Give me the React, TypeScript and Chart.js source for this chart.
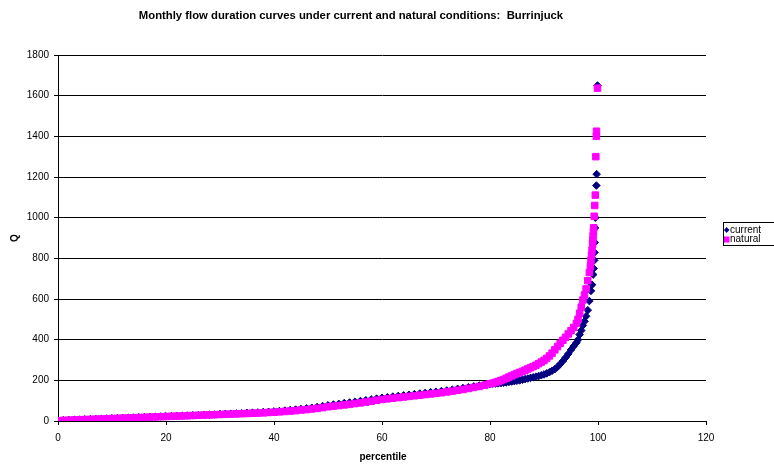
import { useEffect, useRef } from "react";
import { Chart, registerables } from "chart.js";

Chart.register(...registerables);

const TITLE = "Monthly flow duration curves under current and natural conditions:  Burrinjuck";
const X_TITLE = "percentile";
const Y_TITLE = "Q";
const SERIES_NAMES = ["current", "natural"];
const xTickValues = [0, 20, 40, 60, 80, 100, 120];
const yTickValues = [0, 200, 400, 600, 800, 1000, 1200, 1400, 1600, 1800];

// percentiles 0..80 (shared by both series)
const pctLow = [
  0, 1, 2, 3, 4, 5, 6, 7, 8, 9, 10, 11, 12, 13, 14, 15, 16, 17, 18, 19, 20,
  21, 22, 23, 24, 25, 26, 27, 28, 29, 30, 31, 32, 33, 34, 35, 36, 37, 38, 39, 40,
  41, 42, 43, 44, 45, 46, 47, 48, 49, 50, 51, 52, 53, 54, 55, 56, 57, 58, 59, 60,
  61, 62, 63, 64, 65, 66, 67, 68, 69, 70, 71, 72, 73, 74, 75, 76, 77, 78, 79, 80,
];
const qCurrentLow = [
  3, 4, 5, 6, 7, 8, 9, 10, 11, 12, 13, 14, 15, 16, 17, 18, 19, 20, 21, 22, 23,
  24, 25, 26, 27, 28, 29, 30, 31, 32, 34, 35, 36, 37, 38, 40, 41, 42, 44, 45, 47,
  49, 51, 54, 56, 59, 62, 65, 69, 73, 77, 81, 84, 88, 91, 95, 98, 102, 106, 110, 114,
  117, 120, 123, 126, 129, 132, 135, 138, 141, 144, 147, 150, 154, 158, 162, 166, 170, 174, 178, 182,
];
const qNaturalLow = [
  1, 3, 4, 5, 6, 7, 8, 9, 10, 11, 12, 13, 14, 15, 16, 17, 18, 19, 20, 21, 22,
  23, 24, 25, 26, 27, 28, 29, 30, 31, 32, 33, 34, 35, 36, 37, 38, 39, 40, 42, 43,
  45, 47, 49, 51, 54, 56, 59, 62, 66, 70, 73, 76, 79, 82, 86, 89, 93, 97, 102, 106,
  109, 112, 115, 118, 121, 124, 127, 130, 133, 136, 139, 143, 147, 151, 155, 160, 165, 170, 176, 183,
];

const pctCurrentHigh = [
  80.5, 81, 81.5, 82, 82.5, 83, 83.5, 84, 84.5, 85, 85.5, 86, 86.5, 87, 87.5, 88,
  88.5, 89, 89.5, 90, 90.5, 91, 91.5, 92, 92.5, 93, 93.5, 94, 94.5, 95, 95.5, 96,
  96.3, 96.6, 96.9, 97.2, 97.5, 97.8, 98.1, 98.4, 98.7, 98.9, 99.1, 99.2, 99.3,
  99.35, 99.4, 99.45, 99.5, 99.7, 99.75, 99.9,
];
const qCurrentHigh = [
  183, 184, 185, 186, 188, 190, 192, 194, 196, 198, 200, 203, 206, 209, 212, 215,
  218, 221, 225, 229, 234, 240, 247, 255, 266, 280, 295, 312, 330, 350, 368, 385,
  400, 425, 445, 470, 490, 515, 545, 590, 640, 670, 720, 750, 790,
  829, 878, 950, 1000, 1158, 1214, 1650,
];

const pctNaturalHigh = [
  80.5, 81, 81.5, 82, 82.5, 83, 83.5, 84, 84.5, 85, 85.5, 86, 86.5, 87, 87.5, 88,
  88.5, 89, 89.5, 90, 90.5, 91, 91.5, 92, 92.5, 93, 93.5, 94, 94.5, 95, 95.5, 96,
  96.3, 96.6, 96.9, 97.2, 97.5, 97.8, 98.1, 98.4, 98.6, 98.7, 98.8, 98.9, 99.0,
  99.05, 99.1, 99.15, 99.2, 99.3, 99.4, 99.5, 99.6, 99.7, 99.72, 99.9,
];
const qNaturalHigh = [
  186, 190, 194, 199, 204, 210, 216, 222, 228, 234, 239, 244, 250, 256, 262, 268,
  274, 282, 290, 298, 308, 320, 334, 350, 366, 382, 397, 412, 428, 444, 460, 480,
  500, 530, 560, 595, 620, 650, 690, 730, 760, 790, 815, 840, 870,
  890, 910, 930, 950, 1007, 1060, 1111, 1300, 1400, 1425, 1637,
];

const NAVY = "#000080";
const MAGENTA = "#FF00FF";
const FONT = '"Liberation Sans", Arial, sans-serif';

const toPoints = (xs: number[], ys: number[]) => xs.map((x, i) => ({ x, y: ys[i] }));

const decor = {
  id: "decor",
  afterDraw(chart: any) {
    const ctx = chart.ctx as CanvasRenderingContext2D;
    ctx.save();
    ctx.fillStyle = "#000";
    ctx.textBaseline = "middle";
    // title
    ctx.font = `bold 11.3px ${FONT}`;
    ctx.textAlign = "center";
    ctx.fillText(TITLE, 351, 16);
    // x title
    ctx.font = `bold 10px ${FONT}`;
    ctx.fillText(X_TITLE, 383, 457);
    // y title
    ctx.save();
    ctx.translate(15, 238);
    ctx.rotate(-Math.PI / 2);
    ctx.fillText(Y_TITLE, 0, 0);
    ctx.restore();
    // legend
    ctx.strokeStyle = "#000";
    ctx.lineWidth = 1;
    ctx.strokeRect(723.5, 222.5, 60, 23);
    ctx.font = `10px ${FONT}`;
    ctx.textAlign = "left";
    const rows = [230, 239.5];
    const colors = [NAVY, MAGENTA];
    rows.forEach((y, i) => {
      ctx.fillStyle = colors[i];
      ctx.beginPath();
      if (i === 0) {
        ctx.moveTo(726.5, y - 3);
        ctx.lineTo(729.5, y);
        ctx.lineTo(726.5, y + 3);
        ctx.lineTo(723.5 + 0.5, y);
        ctx.closePath();
      } else {
        ctx.rect(724, y - 3, 5.5, 6);
      }
      ctx.fill();
      ctx.fillStyle = "#000";
      ctx.fillText(SERIES_NAMES[i], 730, y);
    });
    ctx.restore();
  },
};

export default function App() {
  const ref = useRef<HTMLCanvasElement>(null);
  useEffect(() => {
    if (!ref.current) return;
    const chart = new Chart(ref.current, {
      type: "scatter",
      data: {
        datasets: [
          {
            label: SERIES_NAMES[0],
            data: [...toPoints(pctLow, qCurrentLow), ...toPoints(pctCurrentHigh, qCurrentHigh)],
            pointStyle: "rectRot",
            pointRadius: 3.8,
            backgroundColor: NAVY,
            borderColor: NAVY,
            borderWidth: 1,
            order: 1,
          },
          {
            label: SERIES_NAMES[1],
            data: [...toPoints(pctLow, qNaturalLow), ...toPoints(pctNaturalHigh, qNaturalHigh)],
            pointStyle: "rect",
            pointRadius: 4.6,
            backgroundColor: MAGENTA,
            borderColor: MAGENTA,
            borderWidth: 1,
            order: 0,
          },
        ],
      },
      options: {
        responsive: false,
        animation: false,
        devicePixelRatio: 1,
        events: [],
        layout: { padding: { top: 55, right: 68, left: 0, bottom: 0 } },
        plugins: {
          legend: { display: false },
          title: { display: false },
          tooltip: { enabled: false },
        },
        scales: {
          x: {
            type: "linear",
            min: 0,
            max: 120,
            afterBuildTicks: (s: any) => {
              s.ticks = xTickValues.map((v) => ({ value: v }));
            },
            afterFit: (s: any) => {
              s.height = 44;
            },
            grid: { drawOnChartArea: false, color: "#000", tickLength: 4 },
            border: { color: "#000" },
            ticks: {
              color: "#000",
              font: { family: FONT, size: 10 },
              padding: 7,
              maxRotation: 0,
              callback: (v: any) => String(v),
            },
          },
          y: {
            type: "linear",
            min: 0,
            max: 1800,
            afterBuildTicks: (s: any) => {
              s.ticks = yTickValues.map((v) => ({ value: v }));
            },
            afterFit: (s: any) => {
              s.width = 58;
            },
            grid: { color: "#000", tickLength: 4 },
            border: { color: "#000" },
            ticks: {
              color: "#000",
              font: { family: FONT, size: 10 },
              padding: 5,
              callback: (v: any) => String(v),
            },
          },
        },
      },
      plugins: [decor],
    } as any);
    return () => chart.destroy();
  }, []);
  return (
    <div style={{ position: "absolute", left: 0, top: 0, width: 774, height: 465, background: "#fff" }}>
      <canvas ref={ref} width={774} height={465} style={{ width: 774, height: 465 }} />
    </div>
  );
}
